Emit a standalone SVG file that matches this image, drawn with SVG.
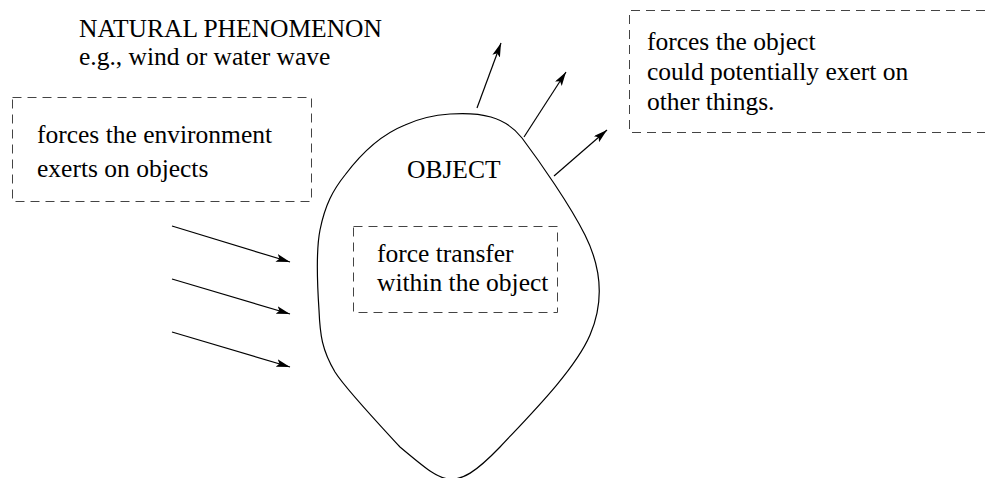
<svg xmlns="http://www.w3.org/2000/svg" width="985" height="478" viewBox="0 0 985 478">
<style>
text{font-family:"Liberation Serif","Times New Roman",serif;font-size:25.5px;fill:#000}
.dash{fill:none;stroke:#444;stroke-width:1;stroke-dasharray:9 6}
.blob{fill:none;stroke:#000;stroke-width:1.2}
.arr{stroke:#000;stroke-width:1.2;fill:none;marker-end:url(#ah)}
</style>
<defs>
<marker id="ah" viewBox="0 0 14 8" refX="14" refY="4" markerWidth="14" markerHeight="8" markerUnits="userSpaceOnUse" orient="auto">
<path d="M0,0 L14,4 L0,8 L3,4 Z" fill="#000"/>
</marker>
</defs>
<g id="natural">
<text x="79" y="37">NATURAL PHENOMENON</text>
<text x="79" y="65">e.g., wind or water wave</text>
</g>
<g id="env-box">
<rect class="dash" x="12.5" y="97.5" width="299" height="104"/>
<text x="37" y="143">forces the environment</text>
<text x="37" y="177">exerts on objects</text>
</g>
<g id="object">
<path class="blob" d="M450,114 C480,112 505,116 522,138 C540,162 570,205 585,235 C600,265 605,300 590,335 C575,370 530,415 500,447 C475,473 462,480 450,479 C438,479 425,468 400,447 C375,420 345,388 335,372 C322,350 320,335 319,310 C317,280 316,250 320,230 C325,205 333,190 345,175 C360,155 380,135 405,125 C420,118 435,115 450,114 Z"/>
<text x="407" y="178">OBJECT</text>
</g>
<g id="transfer-box">
<rect class="dash" x="353.5" y="226.5" width="204" height="86"/>
<text x="377" y="262">force transfer</text>
<text x="377" y="291">within the object</text>
</g>
<g id="exert-box">
<path class="dash" d="M985,10.5 H629.5 V132.5 H985"/>
<text x="647" y="50">forces the object</text>
<text x="647" y="80">could potentially exert on</text>
<text x="647" y="110">other things.</text>
</g>
<g id="connectors">
<line class="arr" x1="172" y1="226" x2="290" y2="262"/>
<line class="arr" x1="172" y1="279" x2="290" y2="314"/>
<line class="arr" x1="172" y1="332" x2="290" y2="367"/>
<line class="arr" x1="477" y1="108" x2="501" y2="43"/>
<line class="arr" x1="524" y1="137" x2="566" y2="72"/>
<line class="arr" x1="554" y1="176" x2="607" y2="130"/>
</g>
</svg>
